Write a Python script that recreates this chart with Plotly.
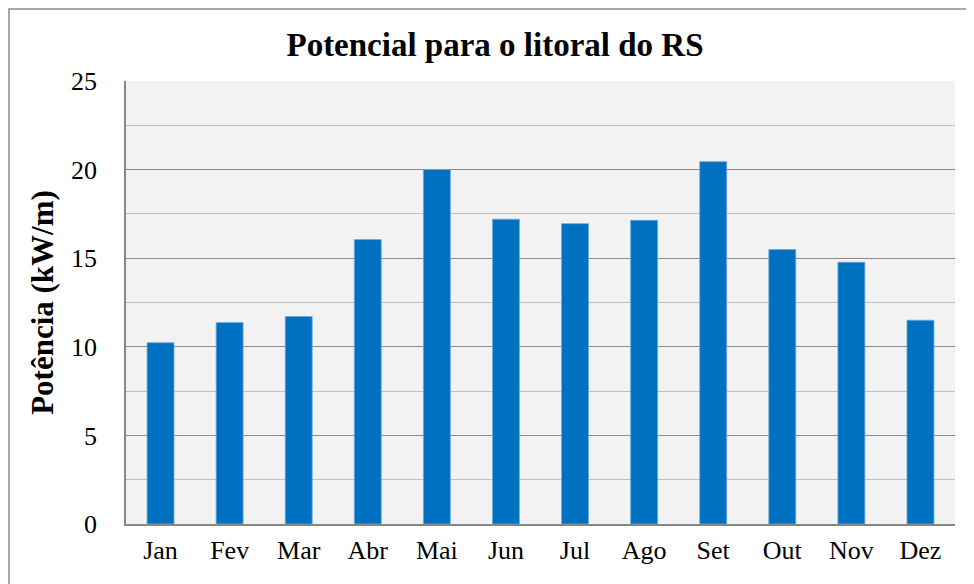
import plotly.graph_objects as go

months = ["Jan", "Fev", "Mar", "Abr", "Mai", "Jun", "Jul", "Ago", "Set", "Out", "Nov", "Dez"]
potencia = [10.23, 11.37, 11.71, 16.05, 20.0, 17.2, 16.95, 17.14, 20.45, 15.49, 14.77, 11.5]
y_ticks = [0, 5, 10, 15, 20, 25]

FONT = "'Liberation Serif', 'Times New Roman', serif"

fig = go.Figure(go.Bar(
    x=months, y=potencia,
    marker=dict(color="#0070C0", line=dict(color="#6FA8DC", width=0.8)),
))

# page has an 8px body margin; figure sized/offset to land plot at the reference position
W, H = 966, 576
L, R, T, B = 118, 19, 73, 60
pw, ph = W - L - R, H - T - B

fig.update_layout(
    width=W, height=H,
    margin=dict(l=L, r=R, t=T, b=B),
    paper_bgcolor="white",
    plot_bgcolor="#F2F2F2",
    bargap=0.61,
    showlegend=False,
    font=dict(family=FONT, size=26, color="black"),
    title=dict(text="<b>Potencial para o litoral do RS</b>", x=487 / W,
               xanchor="center", y=1 - 36 / H, yanchor="middle", yref="container",
               font=dict(family=FONT, size=33, color="black")),
    xaxis=dict(showline=True, linecolor="#868686", linewidth=1.5, ticks="",
               tickfont=dict(size=26), showgrid=False, ticklabelstandoff=2),
    yaxis=dict(range=[0, 25], tickvals=y_ticks, showline=True, linecolor="#868686", linewidth=1.5,
               gridcolor="#8C8C8C", gridwidth=1.2, ticks="",
               tickfont=dict(size=26), ticklabelstandoff=22,
               minor=dict(dtick=2.5, showgrid=True, gridcolor="#BFBFBF", gridwidth=1.2),
               title=dict(text="<b>Potência (kW/m)</b>", font=dict(family=FONT, size=31), standoff=8),
               zeroline=False),
    shapes=[dict(type="rect", xref="paper", yref="paper",
                 x0=(1 - L) / pw, x1=(990 - L) / pw,
                 y0=(H - B - 600) / ph, y1=(H - B - 1) / ph,
                 line=dict(color="#8C8C8C", width=1.5), fillcolor="rgba(0,0,0,0)", layer="below")],
)

fig.write_html("out.html")
